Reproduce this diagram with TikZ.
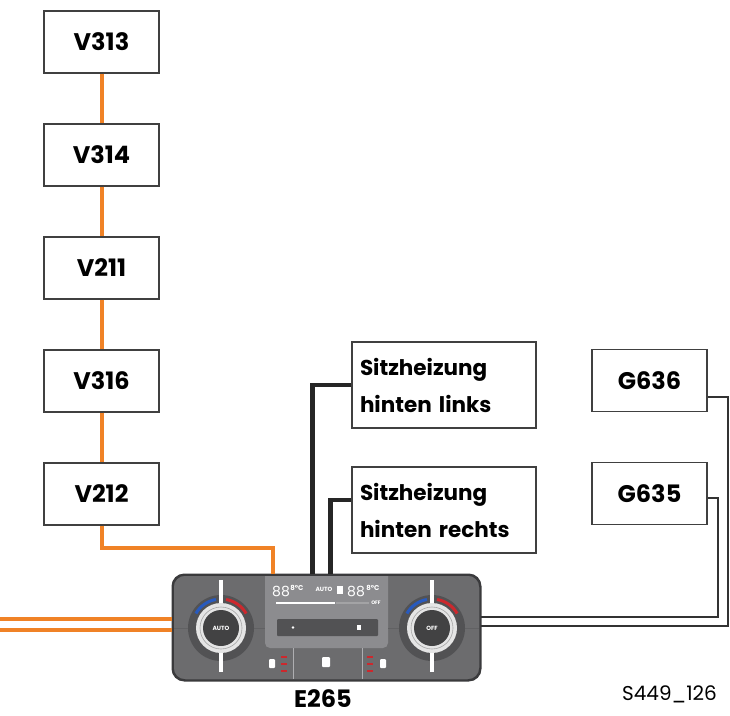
\documentclass[tikz,border=0pt]{standalone}
\usepackage{fontspec}
\setmainfont{Poppins}
\definecolor{wireorange}{RGB}{240,130,38}
\definecolor{panelgray}{RGB}{108,108,110}
\definecolor{panelline}{RGB}{58,58,60}
\definecolor{displaygray}{RGB}{140,140,143}
\definecolor{knobdark}{RGB}{82,82,84}
\definecolor{knobblue}{RGB}{40,90,190}
\definecolor{knobred}{RGB}{205,40,45}

\begin{document}
\begin{tikzpicture}[x=1pt,y=-1pt,
    box/.style={draw=black!75,line width=1.3pt,fill=white,minimum width=115pt,
                minimum height=62pt,inner sep=0pt,font=\fontsize{24}{30}\selectfont\bfseries},
    seatbox/.style={box,minimum width=184pt,minimum height=86pt,text width=168pt,
                align=left,font=\fontsize{21.5}{37}\selectfont\bfseries},
    bus/.style={wireorange,line width=4pt},
    cable/.style={black!85,line width=4.5pt},
    sensor/.style={black!80,line width=2pt},
    panel/.style={draw=panelline,line width=1.5pt,fill=panelgray,rounded corners=12pt,
                minimum width=307pt,minimum height=105pt,inner sep=0pt}]
    \useasboundingbox (0,0) rectangle (730,715);

    %LIN bus stations
    \foreach \name/\lab/\y in {v313/V313/42,v314/V314/155,v211/V211/268,
                               v316/V316/381,v212/V212/494}
      \node[box] (\name) at (101.5,\y) {\lab};
    \foreach \a/\b in {v313/v314,v314/v211,v211/v316,v316/v212}
      \draw[bus] (\a.south) -- (\b.north);

    %seat heating and sensors
    \node[seatbox] (sitzl) at (444,385) {Sitzheizung\\hinten links};
    \node[seatbox] (sitzr) at (444,510) {Sitzheizung\\hinten rechts};
    \node[box] (g636) at (649.5,380.5) {G636};
    \node[box] (g635) at (649.5,493.5) {G635};

    %E265 control panel
    \node[panel] (e265) at (326.5,627.5) {};
    \fill[displaygray,rounded corners=5pt] (265,576) -- (265,648) -- (388,648) -- (388,576);
    \draw[panelline!80,line width=0.6pt] (174,628) -- (265,628) (388,628) -- (479,628);
    \foreach \x in {293,362}
      \draw[displaygray!70,line width=0.8pt] (\x,648) -- (\x,679);

    % display
    \node[white,font=\fontsize{14}{14}\selectfont,inner sep=0] (tl) at (281,591) {88};
    \node[white,font=\fontsize{7}{7}\selectfont\bfseries,inner sep=0] (tlu) at (297,588) {8°C};
    \node[white,font=\fontsize{6}{6}\selectfont\bfseries,inner sep=0] (dauto) at (324,589) {AUTO};
    \node[white,font=\fontsize{14}{14}\selectfont,inner sep=0] (tr) at (356,591) {88};
    \node[white,font=\fontsize{7}{7}\selectfont\bfseries,inner sep=0] (tru) at (373,588) {8°C};
    \node[white,font=\fontsize{5}{5}\selectfont\bfseries,inner sep=0] (doff) at (376,603) {OFF};
    \draw[white,line width=1.2pt] (276,603) -- (335,603);
    \draw[displaygray!80!white,line width=1.2pt] (336,603) -- (369,603);
    \fill[white] (337,586) rectangle (343,594);

    % button bar
    \fill[knobdark,rounded corners=1pt] (277,619) rectangle (378,636);
    \fill[white] (293,627.5) circle (1.3);
    \fill[white] (357,625) rectangle (361,630);

    % seat icons and red steps
    \foreach \y in {657,664,671} {
      \draw[knobred,line width=1.6pt] (281,\y) -- (287,\y);
      \draw[knobred,line width=1.6pt] (367,\y) -- (373,\y);
    }
    \fill[white,rounded corners=1pt] (269,659) rectangle (275,668);
    \fill[white,rounded corners=1pt] (380,659) rectangle (386,668);
    \fill[white,rounded corners=1pt] (322,657) rectangle (330,667);

    % knobs
    \foreach \kx/\klab in {221/AUTO,432/OFF} {
      \fill[knobdark] (\kx,628) circle (33);
      \draw[knobblue,line width=3pt] (\kx,628) ++(-150:29) arc (-150:-100:29);
      \draw[knobred,line width=3pt] (\kx,628) ++(-80:29) arc (-80:-30:29);
      \fill[white] (\kx-2,580) rectangle (\kx+2,672);
      \fill[black!10] (\kx,628) circle (25);
      \draw[black!35,line width=0.6pt] (\kx,628) circle (21);
      \fill[knobdark!80!black] (\kx,628) circle (18);
      \node[white,font=\fontsize{6}{6}\selectfont\bfseries,inner sep=0] at (\kx,628) {\klab};
    }
    \draw[panelline,line width=1.5pt,rounded corners=12pt]
      (e265.north west) rectangle (e265.south east);
    \node[font=\fontsize{24}{30}\selectfont\bfseries,inner sep=0] (e265lab) at (323,699) {E265};
    \node[font=\fontsize{20}{24}\selectfont,inner sep=0] (figno) at (669.5,694.5) {S449\_126};

    %wiring
    \draw[bus] (v212.south) -- ++(0,22) -| ([xshift=101pt]e265.north west);
    \draw[bus,line width=3.5pt] ([yshift=8.5pt]e265.west) -- ++(-173,0);
    \draw[bus,line width=3.5pt] ([yshift=-2.5pt]e265.west) -- ++(-173,0);
    \draw[cable] (sitzl.west) -| ([xshift=140pt]e265.north west);
    \draw[cable] ([yshift=10pt]sitzr.west) -| ([xshift=158pt]e265.north west);
    \draw[sensor] ([yshift=-16pt]g636.east) -- ++(20,0) |- ([yshift=1.5pt]e265.east);
    \draw[sensor] ([yshift=-4.5pt]g635.east) -- ++(10,0) |- ([yshift=10.5pt]e265.east);
\end{tikzpicture}
\end{document}
